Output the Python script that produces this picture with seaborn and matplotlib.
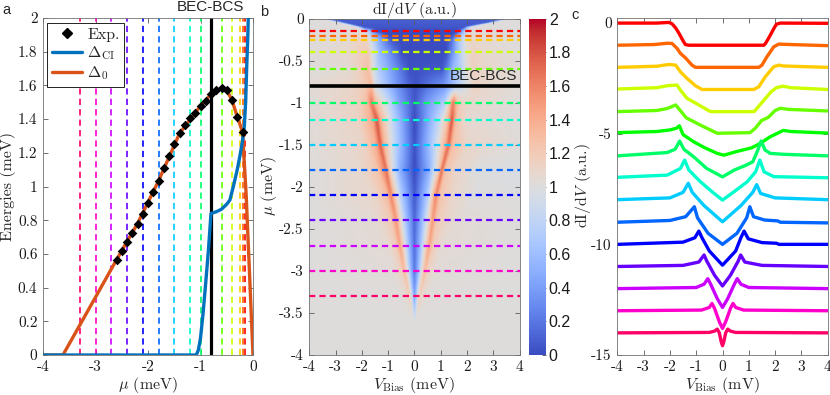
import numpy as np
import matplotlib
matplotlib.use('Agg')
import matplotlib.pyplot as plt
import matplotlib.colors as mcolors
from matplotlib.lines import Line2D
import seaborn as sns

# ---------------- data ----------------
mu_lines = [-0.15, -0.2, -0.25, -0.4, -0.6, -0.8, -1.0, -1.2, -1.5, -1.8,
            -2.1, -2.4, -2.7, -3.0, -3.3]
mu_bec_bcs = -0.8

exp_mu = [-2.6, -2.5, -2.4, -2.3, -2.2, -2.1, -2.0, -1.9, -1.8, -1.7, -1.6,
          -1.5, -1.4, -1.3, -1.2, -1.1, -1.0, -0.9, -0.8, -0.7, -0.6, -0.5,
          -0.4, -0.3, -0.2]
exp_E = [0.565, 0.62, 0.672, 0.726, 0.78, 0.835, 0.90, 0.965, 1.033, 1.108,
         1.183, 1.252, 1.315, 1.363, 1.404, 1.438, 1.478, 1.507, 1.547, 1.574,
         1.584, 1.571, 1.513, 1.414, 1.325]

delta0_mu = [-4.0, -3.62, -3.0, -2.6, -2.2, -1.8, -1.4, -1.0, -0.8, -0.6,
             -0.5, -0.4, -0.3, -0.2, -0.13, 0.0]
delta0_E = [0.0, 0.0, 0.343, 0.565, 0.78, 1.033, 1.315, 1.478, 1.547, 1.584,
            1.571, 1.513, 1.414, 1.325, 0.95, 0.0]

deltaCI_mu = [-4.0, -1.08, -1.04, -1.0, -0.95, -0.9, -0.85, -0.8, -0.75, -0.7,
              -0.6, -0.5, -0.44, -0.375, -0.3, -0.25, -0.2, -0.166, -0.14,
              -0.12, -0.1, -0.09]
deltaCI_E = [0.0, 0.0, 0.03, 0.1, 0.25, 0.43, 0.62, 0.84, 0.845, 0.85, 0.865,
             0.895, 0.92, 1.0, 1.1, 1.18, 1.27, 1.355, 1.5, 1.71, 1.88, 2.0]

# dI/dV spectra (V_bias [mV], dI/dV [a.u.]) at each mu of mu_lines
spec_m015 = [(-4, 1.0), (-2.5, 1.0), (-2.04, 1.03), (-1.92, 0.97), (-1.78, 0.78),
             (-1.66, 0.55), (-1.5, 0.2), (-1.41, 0.03), (-1.28, 0.0), (1.57, 0.0),
             (1.63, 0.07), (1.72, 0.25), (1.82, 0.46), (1.95, 0.75), (2.05, 0.95),
             (2.2, 1.0), (4, 0.99)]
spec_m020 = [(-4, 1.0), (-2.6, 1.03), (-2.1, 1.09), (-1.92, 1.08), (-1.73, 0.86),
             (-1.6, 0.63), (-1.41, 0.43), (-1.16, 0.1), (-1.03, 0.0), (1.38, 0.0),
             (1.5, 0.1), (1.69, 0.48), (1.95, 0.93), (2.14, 1.05), (2.33, 1.04),
             (4, 0.98)]
spec_m025 = [(-4, 1.0), (-2.5, 1.05), (-2.04, 1.13), (-1.78, 1.1), (-1.6, 0.8),
             (-1.35, 0.5), (-1.03, 0.17), (-0.78, 0.0), (1.19, 0.0), (1.38, 0.12),
             (1.63, 0.58), (1.95, 1.03), (2.14, 1.1), (2.33, 1.06), (4, 1.0)]
spec_m040 = [(-4, 1.02), (-2.5, 1.08), (-2.1, 1.17), (-1.73, 1.2), (-1.6, 0.97),
             (-1.35, 0.6), (-0.9, 0.3), (-0.46, 0.0), (1.2, 0.0), (1.35, 0.2),
             (1.6, 0.55), (1.85, 0.9), (2.05, 1.08), (2.3, 1.15), (2.6, 1.08),
             (4, 1.0)]
spec_m060 = [(-4, 1.0), (-2.5, 1.05), (-2.1, 1.14), (-1.78, 1.3), (-1.62, 1.07),
             (-1.38, 0.72), (-0.84, 0.39), (-0.2, 0.02), (1.05, 0.05), (1.24, 0.24),
             (1.49, 0.6), (1.74, 0.74), (2.0, 1.05), (2.2, 1.15), (2.5, 1.1),
             (4, 1.03)]
spec_m080 = [(-4, 1.05), (-2.5, 1.1), (-2.0, 1.17), (-1.75, 1.25), (-1.64, 1.36),
             (-1.5, 0.96), (-1.1, 0.64), (-0.7, 0.38), (-0.2, 0.11), (0.05, 0.03),
             (0.55, 0.2), (1.1, 0.36), (1.43, 0.56), (1.81, 0.86), (2.31, 1.15),
             (2.6, 1.1), (4, 1.03)]
spec_m100 = [(-4, 1.0), (-2.1, 1.15), (-1.8, 1.3), (-1.63, 1.67), (-1.47, 1.3),
             (-1.1, 0.96), (-0.6, 0.43), (0.0, 0.05), (0.45, 0.36), (0.9, 0.58),
             (1.15, 0.73), (1.32, 1.19), (1.47, 1.67), (1.62, 1.26), (1.82, 1.11),
             (2.33, 1.07), (4, 1.0)]
spec_m120 = [(-4, 1.03), (-2.1, 1.13), (-1.6, 1.43), (-1.44, 1.81), (-1.28, 1.36),
             (-0.84, 0.83), (-0.4, 0.38), (0.0, 0.0), (0.44, 0.38), (0.94, 0.83),
             (1.26, 1.28), (1.42, 1.81), (1.58, 1.28), (1.95, 1.06), (4, 1.01)]
spec_m150 = [(-4, 1.02), (-2.0, 1.1), (-1.5, 1.35), (-1.3, 1.76), (-1.15, 1.35),
             (-0.7, 0.75), (0.0, 0.02), (0.7, 0.75), (1.15, 1.35), (1.3, 1.7),
             (1.45, 1.3), (2.0, 1.1), (4, 1.02)]
spec_m180 = [(-4, 1.0), (-2.0, 1.08), (-1.4, 1.25), (-1.07, 1.7), (-0.95, 1.2),
             (-0.55, 0.5), (0.0, 0.0), (0.55, 0.5), (0.92, 1.2), (1.04, 1.7),
             (1.18, 1.25), (1.6, 1.1), (2.1, 1.06), (2.2, 1.0), (4, 0.97)]
spec_m210 = [(-4, 1.0), (-1.5, 1.1), (-1.05, 1.3), (-0.9, 1.6), (-0.78, 1.3),
             (-0.5, 0.7), (0.0, 0.06), (0.5, 0.7), (0.7, 1.3), (0.82, 1.6),
             (0.98, 1.25), (1.5, 1.08), (2.05, 1.05), (2.15, 1.0), (4, 1.0)]
spec_m240 = [(-4, 1.0), (-1.5, 1.05), (-0.9, 1.2), (-0.7, 1.52), (-0.6, 1.25),
             (-0.3, 0.6), (0.0, 0.12), (0.3, 0.6), (0.6, 1.25), (0.69, 1.52),
             (0.85, 1.2), (1.5, 1.05), (4, 1.0)]
spec_m270 = [(-4, 1.0), (-1.0, 1.05), (-0.7, 1.2), (-0.56, 1.45), (-0.45, 1.2),
             (-0.2, 0.55), (0.0, 0.15), (0.2, 0.55), (0.45, 1.2), (0.56, 1.45),
             (0.7, 1.2), (1.0, 1.05), (4, 1.0)]
spec_m300 = [(-4, 1.0), (-0.8, 1.03), (-0.5, 1.15), (-0.4, 1.33), (-0.3, 1.1),
             (-0.12, 0.5), (0.0, 0.2), (0.12, 0.5), (0.3, 1.1), (0.4, 1.33),
             (0.5, 1.15), (0.8, 1.03), (4, 1.0)]
spec_m330 = [(-4, 1.0), (-0.5, 1.02), (-0.3, 1.08), (-0.2, 1.17), (-0.12, 1.0),
             (-0.05, 0.6), (0.0, 0.42), (0.05, 0.6), (0.12, 1.0), (0.2, 1.17),
             (0.3, 1.08), (0.5, 1.02), (4, 1.0)]
spectra = [spec_m015, spec_m020, spec_m025, spec_m040, spec_m060, spec_m080,
           spec_m100, spec_m120, spec_m150, spec_m180, spec_m210, spec_m240,
           spec_m270, spec_m300, spec_m330]
# coherence-peak / gap-edge energy of each spectrum
spec_edge = [1.8, 1.75, 1.65, 1.7, 1.7, 1.64, 1.55, 1.43, 1.3, 1.05, 0.86,
             0.69, 0.56, 0.4, 0.21]

# map rows near the top (mu = 0, -0.05, -0.1) and the featureless bottom
map_top_mu = [0.0, -0.05, -0.1]
map_top_rows = [[(-4, 1.0), (-3.55, 1.0), (-3.3, 0.08), (3.4, 0.08), (3.65, 1.0), (4, 1.0)],
                [(-4, 1.0), (-2.9, 1.02), (-2.6, 0.08), (2.7, 0.08), (3.0, 1.02), (4, 1.0)],
                [(-4, 1.0), (-2.2, 1.02), (-1.95, 0.05), (1.9, 0.05), (2.15, 1.02), (4, 1.0)]]
map_top_edge = [3.45, 2.7, 2.0]
map_bottom_mu = [-3.6, -4.0]
map_flat_row = [(-4, 1.0), (4, 1.0)]

# ---------------- style ----------------
sns.set_style('ticks')
plt.rcParams.update({
    'font.family': ['cmr10', 'DejaVu Serif'],
    'mathtext.fontset': 'cm',
    'axes.unicode_minus': False,
    'axes.formatter.use_mathtext': True,
    'lines.scale_dashes': False,
    'axes.edgecolor': '0.45',
    'axes.linewidth': 0.6,
    'xtick.color': '0.35',
    'ytick.color': '0.35',
    'xtick.labelcolor': '0.1',
    'ytick.labelcolor': '0.1',
})
SANS = 'Liberation Sans'
FS = 11

line_colors = [mcolors.hsv_to_rgb((i / 15.0, 1.0, 1.0)) for i in range(len(mu_lines))]
blue = (0.0, 0.447, 0.741)
orange = (0.85, 0.325, 0.098)

fig = plt.figure(figsize=(8.3, 3.95), dpi=100)
W, H = 830.0, 395.0


def ax_rect(l, r, t, b):
    return [l / W, 1 - b / H, (r - l) / W, (b - t) / H]


def style_ax(ax):
    ax.tick_params(direction='in', length=3.5, width=0.6, top=True, right=True,
                   labelsize=FS, pad=4)
    for s in ax.spines.values():
        s.set_visible(True)


# ---------------- panel a ----------------
axa = fig.add_axes(ax_rect(43, 253, 18, 355))
for m, c in zip(mu_lines, line_colors):
    axa.axvline(m, color=c, lw=1.2, dashes=[4.5, 3.0], zorder=1)
axa.axvline(mu_bec_bcs, color='k', lw=2.3, zorder=2)
sns.lineplot(x=delta0_mu, y=delta0_E, ax=axa, color=orange, lw=2.4,
             sort=False, estimator=None, zorder=3)
sns.lineplot(x=deltaCI_mu, y=deltaCI_E, ax=axa, color=blue, lw=2.4,
             sort=False, estimator=None, zorder=4)
sns.scatterplot(x=exp_mu, y=exp_E, ax=axa, marker='D', s=24, color='k',
                edgecolor='k', linewidth=0, zorder=5)
axa.set_xlim(-4, 0)
axa.set_ylim(0, 2)
axa.set_xticks([-4, -3, -2, -1, 0])
axa.set_xticklabels(['-4', '-3', '-2', '-1', '0'])
yt = np.round(np.arange(0, 2.01, 0.2), 1)
axa.set_yticks(yt)
axa.set_yticklabels(['0', '0.2', '0.4', '0.6', '0.8', '1', '1.2', '1.4', '1.6', '1.8', '2'])
style_ax(axa)
handles = [Line2D([], [], ls='none', marker='D', ms=5.5, color='k'),
           Line2D([], [], color=blue, lw=2.4),
           Line2D([], [], color=orange, lw=2.4)]
leg = axa.legend(handles, ['Exp.', r'$\Delta_{\rm CI}$', r'$\Delta_0$'],
                 loc='upper left', bbox_to_anchor=(0.02, 0.985), fontsize=FS + 0.5,
                 frameon=True, fancybox=False, edgecolor='k', framealpha=1,
                 handlelength=1.9, handletextpad=0.3, labelspacing=0.15,
                 borderpad=0.3, borderaxespad=0)
leg.get_frame().set_linewidth(0.6)
axa.text(mu_bec_bcs, 2.025, 'BEC-BCS', ha='center', va='bottom',
         fontsize=11, family=SANS)
axa.set_xlabel('')
axa.set_ylabel('')
fig.text(148 / W, 1 - 385 / H, r'$\mu$ (meV)', ha='center', va='center', fontsize=FS + 0.5)
fig.text(8 / W, 1 - 186 / H, 'Energies (meV)', ha='center', va='center',
         rotation=90, fontsize=FS + 0.5)

# ---------------- panel b ----------------
axb = fig.add_axes(ax_rect(309.3, 519.5, 18.7, 355))
rows_mu = map_top_mu + mu_lines + map_bottom_mu
rows = map_top_rows + spectra + [map_flat_row, map_flat_row]
edges = map_top_edge + spec_edge + [0.1, 0.1]
Vg = np.linspace(-4, 4, 481)
mug = np.linspace(0, -4, 401)
Z = np.zeros((len(mug), len(Vg)))
for r, m in enumerate(mug):
    k = 0
    while k < len(rows_mu) - 2 and rows_mu[k + 1] >= m:
        k += 1
    t = (rows_mu[k] - m) / (rows_mu[k] - rows_mu[k + 1])
    S = (1 - t) * edges[k] + t * edges[k + 1]
    v1 = [p[0] for p in rows[k]]; g1 = [p[1] for p in rows[k]]
    v2 = [p[0] for p in rows[k + 1]]; g2 = [p[1] for p in rows[k + 1]]
    f1 = np.interp(Vg * edges[k] / S, v1, g1)
    f2 = np.interp(Vg * edges[k + 1] / S, v2, g2)
    Z[r] = (1 - t) * f1 + t * f2
im = axb.imshow(np.clip(Z, 0, 2), cmap='coolwarm', vmin=0, vmax=2,
                extent=[-4, 4, -4, 0], origin='upper', aspect='auto',
                interpolation='bilinear', zorder=0)
for m, c in zip(mu_lines, line_colors):
    axb.axhline(m, color=c, lw=1.6, dashes=[4.5, 3.0], zorder=1)
axb.axhline(mu_bec_bcs, color='k', lw=2.6, zorder=2)
axb.text(3.92, mu_bec_bcs + 0.04, 'BEC-BCS', ha='right', va='bottom',
         fontsize=11, family=SANS, zorder=3)
axb.set_xlim(-4, 4)
axb.set_ylim(-4, 0)
axb.set_xticks(range(-4, 5))
axb.set_xticklabels([str(v) for v in range(-4, 5)])
ybt = [0, -0.5, -1, -1.5, -2, -2.5, -3, -3.5, -4]
axb.set_yticks(ybt)
axb.set_yticklabels(['0', '-0.5', '-1', '-1.5', '-2', '-2.5', '-3', '-3.5', '-4'])
style_ax(axb)
fig.text(414 / W, 1 - 10 / H, r'dI/d$V$ (a.u.)', ha='center', va='center', fontsize=FS + 0.5)
fig.text(414 / W, 1 - 385 / H, r'$V_{\rm Bias}$ (meV)', ha='center', va='center', fontsize=FS + 0.5)
fig.text(269 / W, 1 - 186 / H, r'$\mu$ (meV)', ha='center', va='center',
         rotation=90, fontsize=FS + 0.5)

cax = fig.add_axes(ax_rect(529, 546, 18.7, 355))
cb = fig.colorbar(im, cax=cax)
cb.set_ticks(np.round(np.arange(0, 2.01, 0.2), 1))
cb.set_ticklabels(['0', '0.2', '0.4', '0.6', '0.8', '1', '1.2', '1.4', '1.6', '1.8', '2'])
cb.outline.set_visible(False)
cax.tick_params(direction='in', length=3, width=0.6, labelsize=FS + 0.5, pad=2,
                color='0.3')
for lab in cax.get_yticklabels():
    lab.set_family(SANS)

# ---------------- panel c ----------------
axc = fig.add_axes(ax_rect(617.3, 827.7, 18, 355))
for i, (sp, c) in enumerate(zip(spectra, line_colors)):
    V = [p[0] for p in sp]
    G = [p[1] - 1 - i for p in sp]
    sns.lineplot(x=V, y=G, ax=axc, color=c, lw=2.4, sort=False, estimator=None)
axc.set_xlim(-4, 4)
axc.set_ylim(-15, 0.23)
axc.set_xticks(range(-4, 5))
axc.set_xticklabels([str(v) for v in range(-4, 5)])
axc.set_yticks([0, -5, -10, -15])
axc.set_yticklabels(['0', '-5', '-10', '-15'])
style_ax(axc)
fig.text(722 / W, 1 - 385 / H, r'$V_{\rm Bias}$ (mV)', ha='center', va='center', fontsize=FS + 0.5)
fig.text(583 / W, 1 - 186 / H, r'dI/d$V$ (a.u.)', ha='center', va='center',
         rotation=90, fontsize=FS + 0.5)

# panel letters
fig.text(6 / W, 1 - 10 / H, 'a', ha='center', va='center', fontsize=10.5, family=SANS)
fig.text(264 / W, 1 - 12 / H, 'b', ha='center', va='center', fontsize=10.5, family=SANS)
fig.text(575 / W, 1 - 15 / H, 'c', ha='center', va='center', fontsize=10.5, family=SANS)

fig.savefig('out.png', dpi=100)
